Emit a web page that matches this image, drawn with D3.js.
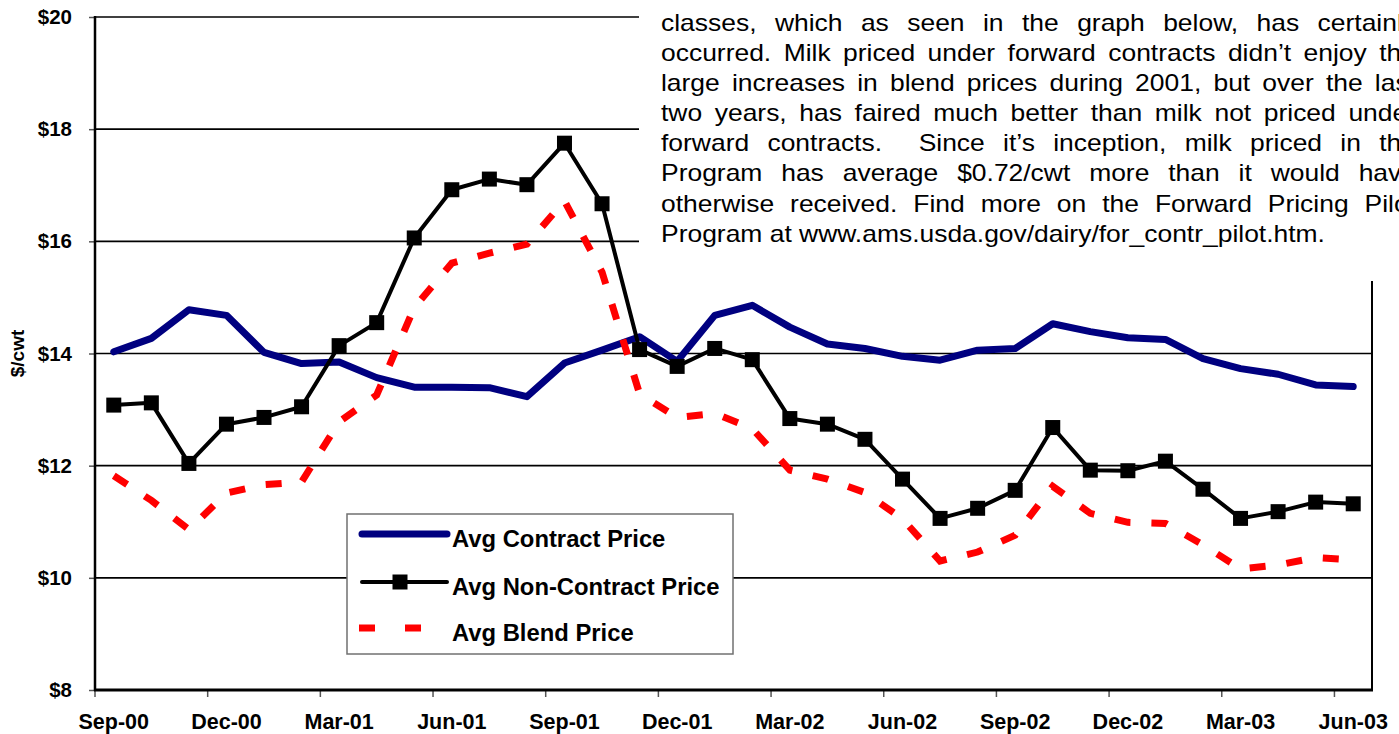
<!DOCTYPE html>
<html>
<head>
<meta charset="utf-8">
<script src="https://cdn.jsdelivr.net/npm/d3@7"></script>
<style>
body { margin: 0; background: #fff; overflow: hidden; }
svg { display: block; font-family: Arial, "Liberation Sans", sans-serif; }
</style>
</head>
<body>
<div id="chart"></div>
<script>
var months = [
    "Sep-00", "Oct-00", "Nov-00", "Dec-00", "Jan-01", "Feb-01", "Mar-01", "Apr-01", "May-01",
    "Jun-01", "Jul-01", "Aug-01", "Sep-01", "Oct-01", "Nov-01", "Dec-01", "Jan-02", "Feb-02",
    "Mar-02", "Apr-02", "May-02", "Jun-02", "Jul-02", "Aug-02", "Sep-02", "Oct-02", "Nov-02",
    "Dec-02", "Jan-03", "Feb-03", "Mar-03", "Apr-03", "May-03", "Jun-03"
];

var contractPrice = [
    14.03, 14.27, 14.78, 14.68, 14.02, 13.82, 13.85, 13.57, 13.40, 13.40, 13.39, 13.23,
    13.83, 14.06, 14.30, 13.86, 14.68, 14.86, 14.47, 14.17, 14.09, 13.95, 13.88, 14.06,
    14.09, 14.53, 14.39, 14.28, 14.25, 13.91, 13.73, 13.63, 13.44, 13.41
];

var nonContractPrice = [
    13.08, 13.12, 12.04, 12.74, 12.86, 13.05, 14.14, 14.55, 16.06, 16.92, 17.11, 17.01,
    17.75, 16.67, 14.07, 13.77, 14.09, 13.89, 12.84, 12.74, 12.47, 11.76, 11.06, 11.24,
    11.56, 12.68, 11.92, 11.91, 12.08, 11.58, 11.06, 11.18, 11.35, 11.32
];

var blendPrice = [
    11.82, 11.38, 10.86, 11.51, 11.66, 11.71, 12.78, 13.26, 14.82, 15.61, 15.79, 15.95,
    16.72, 15.45, 13.28, 12.86, 12.93, 12.66, 11.92, 11.76, 11.52, 11.05, 10.30, 10.46,
    10.76, 11.63, 11.15, 10.99, 10.97, 10.59, 10.16, 10.23, 10.36, 10.32
];

var yTicks = [8, 10, 12, 14, 16, 18, 20];
var seriesNames = ["Avg Contract Price", "Avg Non-Contract Price", "Avg Blend Price"];

var noteLines = [
    "classes, which as seen in the graph below, has certainly",
    "occurred. Milk priced under forward contracts didn\u2019t enjoy the",
    "large increases in blend prices during 2001, but over the last",
    "two years, has faired much better than milk not priced under",
    "forward contracts.  Since it\u2019s inception, milk priced in the",
    "Program has average $0.72/cwt more than it would have",
    "otherwise received. Find more on the Forward Pricing Pilot",
    "Program at www.ams.usda.gov/dairy/for_contr_pilot.htm."
];

var width = 1399, height = 734;
var plot = { left: 95, right: 1372, top: 17, bottom: 690 };
var fontFamily = "Arial, 'Liberation Sans', sans-serif";

var svg = d3.select("#chart").append("svg")
    .attr("width", width)
    .attr("height", height);

var x = d3.scaleBand().domain(months).range([plot.left, plot.right]);
var y = d3.scaleLinear().domain([8, 20]).range([plot.bottom, plot.top]);
var xMid = function(d) { return x(d) + x.bandwidth() / 2; };

// gridlines
svg.append("g").selectAll("line")
    .data(yTicks.slice(1))
    .join("line")
    .attr("x1", plot.left)
    .attr("x2", plot.right)
    .attr("y1", function(d) { return y(d); })
    .attr("y2", function(d) { return y(d); })
    .attr("stroke", "#000")
    .attr("stroke-width", 1.6);

// right border
svg.append("line")
    .attr("x1", plot.right).attr("x2", plot.right)
    .attr("y1", plot.top).attr("y2", plot.bottom)
    .attr("stroke", "#000")
    .attr("stroke-width", 2);

// y axis
var yAxis = d3.axisLeft(y)
    .tickValues(yTicks)
    .tickFormat(function(d) { return "$" + d; })
    .tickSize(6)
    .tickPadding(17);

svg.append("g")
    .attr("transform", "translate(" + plot.left + ",0)")
    .call(yAxis)
    .call(function(g) { g.select(".domain").remove(); })
    .call(function(g) { g.selectAll(".tick line").attr("stroke", "#555").attr("stroke-width", 1.5); })
    .call(function(g) {
        g.selectAll("text")
            .attr("font-size", 20.5)
            .attr("font-weight", "bold")
            .attr("font-family", fontFamily)
            .attr("fill", "#000");
    });

// x axis labels and ticks
var labelMonths = months.filter(function(d, i) { return i % 3 === 0; });

svg.append("g").selectAll("line")
    .data(labelMonths)
    .join("line")
    .attr("x1", function(d) { return x(d); })
    .attr("x2", function(d) { return x(d); })
    .attr("y1", plot.bottom)
    .attr("y2", plot.bottom + 7)
    .attr("stroke", "#555")
    .attr("stroke-width", 1.5);

var xAxis = d3.axisBottom(x).tickValues(labelMonths).tickSize(0).tickPadding(24);
svg.append("g")
    .attr("transform", "translate(0," + plot.bottom + ")")
    .call(xAxis)
    .call(function(g) { g.select(".domain").remove(); })
    .call(function(g) {
        g.selectAll("text")
            .attr("font-size", 21.5)
            .attr("font-weight", "bold")
            .attr("font-family", fontFamily)
            .attr("fill", "#000");
    });

// main axes lines
svg.append("line")
    .attr("x1", plot.left).attr("x2", plot.left)
    .attr("y1", plot.top - 1).attr("y2", plot.bottom + 1)
    .attr("stroke", "#000").attr("stroke-width", 2.5);
svg.append("line")
    .attr("x1", plot.left - 1).attr("x2", plot.right + 1)
    .attr("y1", plot.bottom).attr("y2", plot.bottom)
    .attr("stroke", "#000").attr("stroke-width", 3);

// y title
svg.append("text")
    .attr("transform", "translate(24," + y(14) + ") rotate(-90)")
    .attr("text-anchor", "middle")
    .attr("font-size", 19)
    .attr("font-weight", "bold")
    .attr("font-family", fontFamily)
    .text("$/cwt");

// text box laid over the chart
svg.append("rect")
    .attr("x", 639).attr("y", 0)
    .attr("width", width - 639).attr("height", 281)
    .attr("fill", "#fff");

// paragraph, slightly widened like the source
var noteLeft = 661, noteRight = 1416, noteTop = 31, noteLeading = 30.1, noteStretch = 1.15;
var note = svg.append("g")
    .attr("transform", "translate(" + noteLeft + ",0) scale(" + noteStretch + ",1)")
    .attr("font-size", 23)
    .attr("font-family", fontFamily)
    .attr("fill", "#000");
var noteWidth = (noteRight - noteLeft) / noteStretch;

noteLines.forEach(function(line, k) {
    var t = note.append("text").attr("y", noteTop + k * noteLeading);
    if (k === noteLines.length - 1) {
        t.attr("x", 0).text(line);
        return;
    }
    var words = line.split(" ");
    var spans = words.map(function(w) { return t.append("tspan").text(w); });
    var widths = spans.map(function(s) { return s.node().getComputedTextLength(); });
    var gap = (noteWidth - d3.sum(widths)) / (words.length - 1);
    var cx = 0;
    spans.forEach(function(s, i) {
        s.attr("x", cx);
        cx += widths[i] + gap;
    });
});

// series
var line = d3.line()
    .x(function(d, i) { return xMid(months[i]); })
    .y(function(d) { return y(d); });

svg.append("path")
    .datum(contractPrice)
    .attr("d", line)
    .attr("fill", "none")
    .attr("stroke", "#000080")
    .attr("stroke-width", 7)
    .attr("stroke-linejoin", "round")
    .attr("stroke-linecap", "round");

svg.append("path")
    .datum(nonContractPrice)
    .attr("d", line)
    .attr("fill", "none")
    .attr("stroke", "#000")
    .attr("stroke-width", 4)
    .attr("stroke-linejoin", "round");

svg.append("g").selectAll("rect")
    .data(nonContractPrice)
    .join("rect")
    .attr("x", function(d, i) { return xMid(months[i]) - 7.5; })
    .attr("y", function(d) { return y(d) - 7.5; })
    .attr("width", 15)
    .attr("height", 15)
    .attr("fill", "#000");

svg.append("path")
    .datum(blendPrice)
    .attr("d", line)
    .attr("fill", "none")
    .attr("stroke", "#ff0000")
    .attr("stroke-width", 7)
    .attr("stroke-dasharray", "16,21")
    .attr("stroke-linejoin", "miter");

// legend
var legend = svg.append("g");
legend.append("rect")
    .attr("x", 347).attr("y", 514)
    .attr("width", 386).attr("height", 140)
    .attr("fill", "#fff")
    .attr("stroke", "#707070")
    .attr("stroke-width", 1.5);

var rowY = [534, 582, 628];
legend.append("line")
    .attr("x1", 362).attr("x2", 447).attr("y1", rowY[0]).attr("y2", rowY[0])
    .attr("stroke", "#000080").attr("stroke-width", 7).attr("stroke-linecap", "round");
legend.append("line")
    .attr("x1", 362).attr("x2", 447).attr("y1", rowY[1]).attr("y2", rowY[1])
    .attr("stroke", "#000").attr("stroke-width", 4).attr("stroke-linecap", "round");
legend.append("rect")
    .attr("x", 400 - 7.5).attr("y", rowY[1] - 7.5)
    .attr("width", 15).attr("height", 15)
    .attr("fill", "#000");
legend.append("line")
    .attr("x1", 359).attr("x2", 421).attr("y1", rowY[2]).attr("y2", rowY[2])
    .attr("stroke", "#ff0000").attr("stroke-width", 7).attr("stroke-dasharray", "16,30");

legend.selectAll("text.item")
    .data(seriesNames)
    .join("text")
    .attr("class", "item")
    .attr("x", 452)
    .attr("y", function(d, i) { return rowY[i] + 13; })
    .attr("font-size", 23.8)
    .attr("font-weight", "bold")
    .attr("font-family", fontFamily)
    .text(function(d) { return d; });
</script>
</body>
</html>
